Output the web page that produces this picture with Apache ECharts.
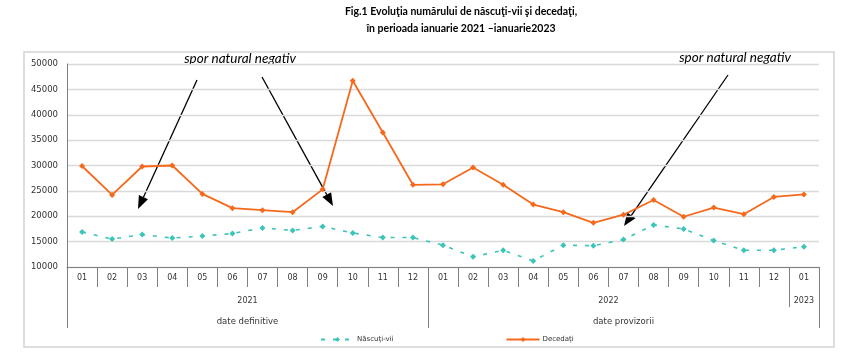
<!DOCTYPE html>
<html>
<head>
<meta charset="utf-8">
<script src="https://cdn.jsdelivr.net/npm/echarts@6/dist/echarts.min.js"></script>
<style>html,body{margin:0;padding:0;background:#fff}#c{width:855px;height:357px}</style>
</head>
<body>
<div id="c"></div>
<script>
// ---- data ----
const months = ['01','02','03','04','05','06','07','08','09','10','11','12',
                '01','02','03','04','05','06','07','08','09','10','11','12','01'];
const yearGroups = [['2021', 12], ['2022', 12], ['2023', 1]];
const statusGroups = [['date definitive', 12], ['date provizorii', 13]];
const nascutiVii = [16900,15500,16400,15700,16100,16600,17700,17200,18000,16700,15800,15800,
                    14300,12000,13300,11200,14300,14200,15400,18300,17500,15200,13300,13300,14000];
const decedati = [29900,24200,29800,30000,24400,21600,21200,20800,25300,46700,36500,26200,
                  26300,29600,26200,22300,20800,18700,20300,23200,19900,21700,20400,23800,24300];
const yTicks = {min: 10000, max: 50000, interval: 5000};
const annotationText = 'spor natural negativ';

// ---- helpers ----
function groupInfo(groups) {
  const bounds = [0], centers = [], labels = {};
  let s = 0;
  groups.forEach(g => {
    const c = s + g[1] / 2;
    centers.push(c);
    labels[c] = g[0];
    s += g[1];
    bounds.push(s);
  });
  return {bounds, centers, labels};
}
const yg = groupInfo(yearGroups);
const sg = groupInfo(statusGroups);
const N = months.length;

function arrow(x1, y1, x2, y2) {
  const a = Math.atan2(y2 - y1, x2 - x1);
  const L = 13, W = 5;
  const bx = x2 - L * Math.cos(a), by = y2 - L * Math.sin(a);
  const px = -Math.sin(a) * W, py = Math.cos(a) * W;
  return [
    {type: 'line', shape: {x1, y1, x2: bx, y2: by}, style: {stroke: '#000', lineWidth: 1.3}},
    {type: 'polygon', shape: {points: [[x2, y2], [bx + px, by + py], [bx - px, by - py]]}, style: {fill: '#000'}}
  ];
}

const axisGray = '#808080';
const labelColor = '#333';
const labelFont = 'DejaVu Sans';

const chart = echarts.init(document.getElementById('c'));
chart.setOption({
  animation: false,
  title: {
    text: 'Fig.1 Evoluţia numărului de născuţi-vii şi decedaţi,\nîn perioada ianuarie 2021 \u2013ianuarie2023',
    left: 461, top: 3, padding: 0, textAlign: 'center',
    textStyle: {fontFamily: 'Lato', fontWeight: 'bold', fontSize: 10.5, lineHeight: 17, color: '#000'}
  },
  legend: {
    left: 315, top: 331, itemGap: 112, itemWidth: 33, itemHeight: 6,
    textStyle: {fontSize: 7, color: '#333', fontFamily: labelFont, padding: [0, 0, 0, -2]},
    data: ['Născuţi-vii', 'Decedaţi']
  },
  grid: {left: 67, right: 36, top: 64, bottom: 90, containLabel: false},
  xAxis: [
    {
      type: 'category', data: months, boundaryGap: true,
      axisLine: {show: true, lineStyle: {color: axisGray, width: 1}},
      axisTick: {show: true, interval: 0, length: 20, lineStyle: {color: axisGray}},
      axisLabel: {interval: 0, margin: 7, fontSize: 8, color: labelColor, fontFamily: labelFont}
    },
    {
      type: 'value', min: 0, max: N, position: 'bottom', offset: 20,
      axisLine: {show: false}, splitLine: {show: false},
      axisTick: {show: true, customValues: yg.bounds, length: 20, lineStyle: {color: axisGray}},
      axisLabel: {customValues: yg.centers, margin: 10, fontSize: 8, color: labelColor, fontFamily: labelFont,
                  formatter: v => yg.labels[v] || ''}
    },
    {
      type: 'value', min: 0, max: N, position: 'bottom', offset: 40,
      axisLine: {show: false}, splitLine: {show: false},
      axisTick: {show: true, customValues: sg.bounds, length: 21, lineStyle: {color: axisGray}},
      axisLabel: {customValues: sg.centers, margin: 10, fontSize: 8.5, color: labelColor, fontFamily: labelFont,
                  formatter: v => sg.labels[v] || ''}
    }
  ],
  yAxis: {
    type: 'value', min: yTicks.min, max: yTicks.max, interval: yTicks.interval,
    axisLine: {show: true, lineStyle: {color: axisGray}},
    axisTick: {show: false},
    axisLabel: {margin: 9, fontSize: 8.5, color: labelColor, fontFamily: labelFont, formatter: v => String(v)},
    splitLine: {lineStyle: {color: '#d9d9d9', width: 1.3}}
  },
  series: [
    {
      name: 'Născuţi-vii', type: 'line', data: nascutiVii, xAxisIndex: 0,
      symbol: 'diamond', symbolSize: 6, showAllSymbol: true,
      lineStyle: {color: '#3cc4b9', width: 1.6, type: [4, 8]},
      itemStyle: {color: '#3cc4b9'}
    },
    {
      name: 'Decedaţi', type: 'line', data: decedati, xAxisIndex: 0,
      symbol: 'diamond', symbolSize: 6, showAllSymbol: true,
      lineStyle: {color: '#f5691c', width: 1.8},
      itemStyle: {color: '#f5691c'}
    }
  ],
  graphic: [
    {type: 'rect', shape: {x: 24, y: 52, width: 810, height: 295}, style: {fill: 'none', stroke: '#d4d4d4', lineWidth: 1.5}, z: -1},
    {type: 'text', x: 240, y: 59, style: {text: annotationText, fontFamily: 'Lato', fontStyle: 'italic', fontSize: 13.5, fill: '#000', align: 'center', verticalAlign: 'middle'}},
    {type: 'text', x: 735, y: 58, style: {text: annotationText, fontFamily: 'Lato', fontStyle: 'italic', fontSize: 13.5, fill: '#000', align: 'center', verticalAlign: 'middle'}},
    ...arrow(197, 80, 138, 209),
    ...arrow(262, 77, 333, 206),
    ...arrow(728, 75, 624, 226)
  ]
});
</script>
</body>
</html>
